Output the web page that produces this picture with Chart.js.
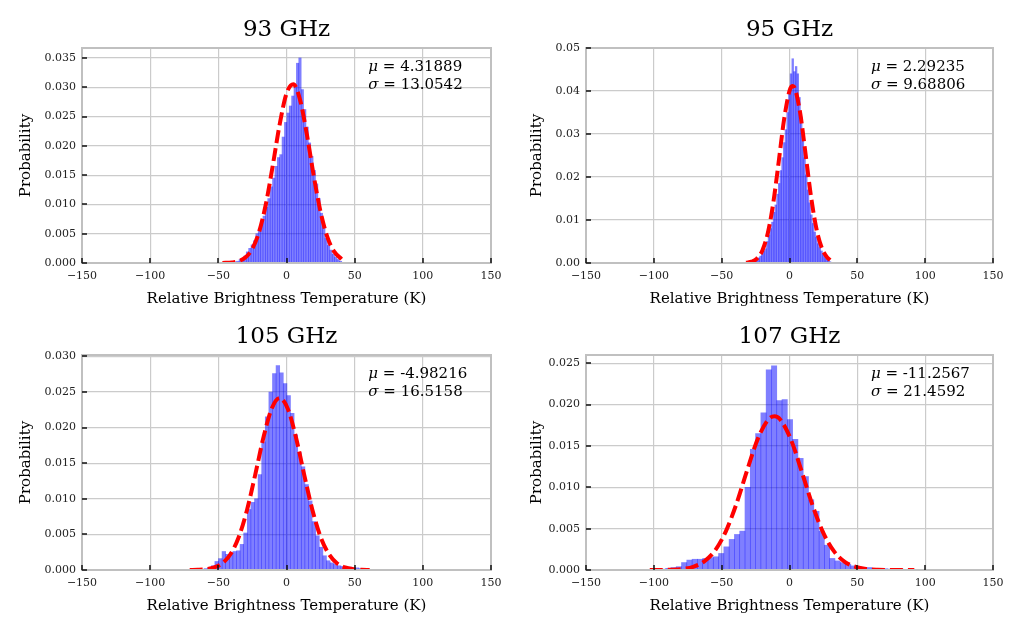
<!DOCTYPE html>
<html>
<head>
<meta charset="utf-8">
<script src="https://cdn.jsdelivr.net/npm/chart.js@4.4.1/dist/chart.umd.min.js"></script>
<style>
body { margin: 0; background: #fff; }
#wrap { position: relative; width: 1022px; height: 632px; }
.cell { position: absolute; width: 511px; height: 316px; }
</style>
</head>
<body>
<div id="wrap">
  <div class="cell" style="left:0;top:0"><canvas id="c93" width="511" height="316"></canvas></div>
  <div class="cell" style="left:511px;top:0"><canvas id="c95" width="511" height="316"></canvas></div>
  <div class="cell" style="left:0;top:307px"><canvas id="c105" width="511" height="316"></canvas></div>
  <div class="cell" style="left:511px;top:307px"><canvas id="c107" width="511" height="316"></canvas></div>
</div>
<script>
// ---- 93 GHz ----
const bins93 = [-46.13, -44.38, -42.63, -40.88, -39.13, -37.38, -35.63, -33.88, -32.13, -30.38,
  -28.63, -26.88, -25.13, -23.38, -21.63, -19.88, -18.13, -16.38, -14.63, -12.88,
  -11.13, -9.38, -7.63, -5.88, -4.13, -2.38, -0.63, 1.13, 2.88, 4.63,
  6.38, 8.13, 9.88, 11.63, 13.38, 15.13, 16.88, 18.63, 20.38, 22.13,
  23.88, 25.63, 27.38, 29.13, 30.88, 32.63, 34.38, 36.13, 37.88, 39.63];
const prob93 = [0.00002, 0.00003, 0.00005, 0.0001, 0.0001, 0.0002, 0.0003, 0.0006, 0.0008, 0.0012,
  0.0019, 0.0025, 0.0031, 0.0038, 0.0050, 0.0058, 0.0072, 0.0080, 0.0095, 0.0110,
  0.0130, 0.0145, 0.0165, 0.0180, 0.0185, 0.0215, 0.0240, 0.0256, 0.0268, 0.0285,
  0.0300, 0.0341, 0.0350, 0.0296, 0.0262, 0.0232, 0.0205, 0.0182, 0.0158, 0.0135,
  0.0110, 0.0085, 0.0062, 0.0042, 0.0030, 0.0022, 0.0015, 0.0010, 0.0006, 0.0003];
const fitX93 = [-47, -40, -35, -30, -25, -20, -15, -10, -5, 0, 5, 10, 15, 20, 25, 30, 35, 40.4];
const fitY93 = [0.00001, 0.000094, 0.00033, 0.00097, 0.00245, 0.00538, 0.0102, 0.01674, 0.02368, 0.02893,
  0.03052, 0.0278, 0.02186, 0.01485, 0.00871, 0.00441, 0.00193, 0.00067];

// ---- 95 GHz ----
const bins95 = [-31.38, -30.13, -28.88, -27.63, -26.38, -25.13, -23.88, -22.63, -21.38, -20.13,
  -18.88, -17.63, -16.38, -15.13, -13.88, -12.63, -11.38, -10.13, -8.88, -7.63,
  -6.38, -5.13, -3.88, -2.63, -1.38, -0.13, 1.13, 2.38, 3.63, 4.88,
  6.13, 7.38, 8.63, 9.88, 11.13, 12.38, 13.63, 14.88, 16.13, 17.38,
  18.63, 19.88, 21.13, 22.38, 23.63, 24.88, 26.13, 27.38, 28.63, 29.88];
const prob95 = [0.00003, 0.00005, 0.0001, 0.0002, 0.0003, 0.0005, 0.0009, 0.0012, 0.0016, 0.0022,
  0.0028, 0.0033, 0.0050, 0.0065, 0.0080, 0.0095, 0.0118, 0.0135, 0.0160, 0.0185,
  0.0215, 0.0245, 0.0280, 0.0310, 0.0350, 0.0400, 0.0440, 0.0475, 0.0445, 0.0457,
  0.0440, 0.0385, 0.0340, 0.0295, 0.0245, 0.0205, 0.0170, 0.0140, 0.0112, 0.0092,
  0.0072, 0.0060, 0.0045, 0.0036, 0.0028, 0.0020, 0.0015, 0.0010, 0.0006, 0.0003];
const fitX95 = [-32, -28, -24, -20, -16, -12, -8, -4, 0, 2, 4, 8, 12, 16, 20, 24, 28, 30];
const fitY95 = [0.000078, 0.00031, 0.00104, 0.00292, 0.00693, 0.01387, 0.02343, 0.03336, 0.04004, 0.04116,
  0.04054, 0.03462, 0.02493, 0.01513, 0.00774, 0.00334, 0.00122, 0.00069];

// ---- 105 GHz ----
const bins105 = [-69.68, -67.04, -64.40, -61.76, -59.12, -56.48, -53.84, -51.20, -48.56, -45.92,
  -43.28, -40.64, -38.00, -35.36, -32.72, -30.08, -27.44, -24.80, -22.16, -19.52,
  -16.88, -14.24, -11.60, -8.96, -6.32, -3.68, -1.04, 1.60, 4.24, 6.88,
  9.52, 12.16, 14.80, 17.44, 20.08, 22.72, 25.36, 28.00, 30.64, 33.28,
  35.92, 38.56, 41.20, 43.84, 46.48, 49.12, 51.76, 54.40, 57.04, 59.68];
const prob105 = [0.00003, 0.00005, 0.0001, 0.0001, 0.0002, 0.0003, 0.0006, 0.0012, 0.0016, 0.0026,
  0.0022, 0.0024, 0.0026, 0.0027, 0.0036, 0.0052, 0.0085, 0.0095, 0.0100, 0.0134,
  0.0180, 0.0215, 0.0250, 0.0276, 0.0287, 0.0277, 0.0262, 0.0245, 0.0220, 0.0190,
  0.0165, 0.0145, 0.0120, 0.0097, 0.0068, 0.0048, 0.0032, 0.0020, 0.0013, 0.0010,
  0.0008, 0.0006, 0.0005, 0.0004, 0.0004, 0.0003, 0.0003, 0.0002, 0.0002, 0.0001];
const fitX105 = [-71, -65, -59, -53, -47, -41, -35, -29, -23, -17, -11, -5, 1, 7, 13, 19, 25, 31, 37, 43, 49, 55, 61];
const fitY105 = [0.000008, 0.000033, 0.000115, 0.000353, 0.00095, 0.002245, 0.004637, 0.0084, 0.01333, 0.01854,
  0.02261, 0.02416, 0.02263, 0.01858, 0.01337, 0.00843, 0.00465, 0.002255, 0.000958, 0.000356,
  0.000116, 0.000033, 0.000008];

// ---- 107 GHz ----
const bins107 = [-101.05, -97.15, -93.25, -89.35, -85.45, -81.55, -77.65, -73.75, -69.85, -65.95,
  -62.05, -58.15, -54.25, -50.35, -46.45, -42.55, -38.65, -34.75, -30.85, -26.95,
  -23.05, -19.15, -15.25, -11.35, -7.45, -3.55, 0.35, 4.25, 8.15, 12.05,
  15.95, 19.85, 23.75, 27.65, 31.55, 35.45, 39.35, 43.25, 47.15, 51.05,
  54.95, 58.85, 62.75, 66.65, 70.55, 74.45, 78.35, 82.25, 86.15, 90.05];
const prob107 = [0.00002, 0.00005, 0.0001, 0.0002, 0.0003, 0.0004, 0.0009, 0.0012, 0.0013, 0.0013,
  0.0014, 0.0015, 0.0016, 0.0020, 0.0028, 0.0037, 0.0043, 0.0047, 0.0100, 0.0146,
  0.0165, 0.0190, 0.0242, 0.0247, 0.0205, 0.0206, 0.0182, 0.0158, 0.0135, 0.0113,
  0.0085, 0.0071, 0.0047, 0.0030, 0.0014, 0.0011, 0.0009, 0.0007, 0.0005, 0.0004,
  0.0003, 0.0003, 0.0002, 0.0002, 0.00015, 0.0001, 0.0001, 0.0001, 0.00005, 0.00005];
const fitX107 = [-103, -95, -87, -79, -71, -63, -55, -47, -39, -31, -23, -15, -11, -7, 1, 9, 17, 25, 33, 41, 49, 57, 65, 73, 81, 92];
const fitY107 = [0.000002, 0.0000092, 0.0000366, 0.000128, 0.000386, 0.001016, 0.00233, 0.00465, 0.00806, 0.01218,
  0.01601, 0.01831, 0.01859, 0.01823, 0.01579, 0.01191, 0.00781, 0.00446, 0.00222, 0.00096,
  0.00036, 0.000118, 0.0000337, 0.0000083, 0.0000018, 0.0000001];

const xTicks = [-150, -100, -50, 0, 50, 100, 150];

const serif = 'DejaVu Serif';

// titles, frame, inward ticks and the mu / sigma text
const decor = {
    id: 'decor',
    afterDraw(chart) {
        const o = chart.options.plugins.decor;
        const ctx = chart.ctx;
        const a = chart.chartArea;
        const sx = chart.scales.x, sy = chart.scales.y;
        ctx.save();
        ctx.strokeStyle = '#c0c0c0';
        ctx.lineWidth = 2;
        ctx.strokeRect(a.left, a.top, a.right - a.left, a.bottom - a.top);

        ctx.strokeStyle = '#111';
        ctx.lineWidth = 1.5;
        ctx.beginPath();
        sx.ticks.forEach(t => {
            const px = Math.round(sx.getPixelForValue(t.value));
            ctx.moveTo(px, a.bottom);
            ctx.lineTo(px, a.bottom - 5);
        });
        sy.ticks.forEach(t => {
            const py = Math.round(sy.getPixelForValue(t.value));
            ctx.moveTo(a.left, py);
            ctx.lineTo(a.left + 5, py);
        });
        ctx.stroke();

        ctx.fillStyle = '#000';
        ctx.font = '23px "' + serif + '"';
        ctx.textAlign = 'center';
        ctx.textBaseline = 'alphabetic';
        ctx.fillText(o.title, (a.left + a.right) / 2, 36);

        ctx.textAlign = 'left';
        ctx.textBaseline = 'middle';
        const tx = a.left + 0.7 * (a.right - a.left);
        const ty = a.top + 19;
        [['\u03bc', o.mu], ['\u03c3', o.sigma]].forEach((row, i) => {
            const y = ty + i * 18.5;
            ctx.font = 'italic 15px "' + serif + '"';
            ctx.fillText(row[0], tx, y);
            const w = ctx.measureText(row[0]).width;
            ctx.font = '15px "' + serif + '"';
            ctx.fillText(' = ' + row[1], tx + w, y);
        });
        ctx.restore();
    }
};

function makeHist(id, title, bins, prob, fitX, fitY, mu, sigma, yMax, yStep, yDec, yWidth, padRight) {
    const gridColor = '#cbcbcb';
    const config = {
        type: 'bar',
        data: {
            datasets: [{
                type: 'line',
                data: fitX.map((x, i) => ({ x: x, y: fitY[i] })),
                borderColor: '#ff0000',
                borderWidth: 4,
                borderDash: [13, 5],
                pointRadius: 0,
                cubicInterpolationMode: 'monotone',
                fill: false,
                order: 0
            }, {
                type: 'bar',
                data: bins.map((x, i) => ({ x: x, y: prob[i] })),
                backgroundColor: 'rgba(0, 0, 255, 0.5)',
                borderWidth: 0,
                barPercentage: 1,
                categoryPercentage: 1,
                order: 1
            }]
        },
        options: {
            responsive: false,
            animation: false,
            layout: { padding: { top: 48, right: padRight, bottom: 0, left: 0 } },
            plugins: {
                legend: { display: false },
                tooltip: { enabled: false },
                decor: { title: title, mu: mu, sigma: sigma }
            },
            scales: {
                x: {
                    type: 'linear',
                    min: -150,
                    max: 150,
                    offset: false,
                    grid: { color: gridColor, lineWidth: 1.2, drawTicks: false, offset: false },
                    border: { display: false },
                    afterBuildTicks: s => { s.ticks = xTicks.map(v => ({ value: v })); },
                    ticks: {
                        padding: 7,
                        color: '#222',
                        maxRotation: 0,
                        autoSkip: false,
                        font: { family: serif, size: 11 },
                        callback: v => (v < 0 ? '\u2212' + Math.abs(v) : String(v))
                    },
                    title: {
                        display: true,
                        text: 'Relative Brightness Temperature (K)',
                        color: '#000',
                        font: { family: serif, size: 15 },
                        padding: { top: 0, bottom: 8 }
                    },
                    afterFit: s => { s.height = 53; }
                },
                y: {
                    min: 0,
                    max: yMax,
                    grid: { color: gridColor, lineWidth: 1.2, drawTicks: false },
                    border: { display: false },
                    ticks: {
                        stepSize: yStep,
                        includeBounds: false,
                        padding: 6,
                        color: '#222',
                        autoSkip: false,
                        font: { family: serif, size: 11 },
                        callback: v => Number(v).toFixed(yDec)
                    },
                    title: {
                        display: true,
                        text: 'Probability',
                        color: '#000',
                        font: { family: serif, size: 15 },
                        padding: { top: 17, bottom: 0 }
                    },
                    afterFit: s => { s.width = yWidth; }
                }
            }
        },
        plugins: [decor]
    };
    return new Chart(document.getElementById(id), config);
}

makeHist('c93', '93 GHz', bins93, prob93, fitX93, fitY93, '4.31889', '13.0542', 0.0367, 0.005, 3, 82, 20);
makeHist('c95', '95 GHz', bins95, prob95, fitX95, fitY95, '2.29235', '9.68806', 0.05, 0.01, 2, 75, 29);
makeHist('c105', '105 GHz', bins105, prob105, fitX105, fitY105, '-4.98216', '16.5158', 0.0302, 0.005, 3, 82, 20);
makeHist('c107', '107 GHz', bins107, prob107, fitX107, fitY107, '-11.2567', '21.4592', 0.026, 0.005, 3, 75, 29);
</script>
</body>
</html>
